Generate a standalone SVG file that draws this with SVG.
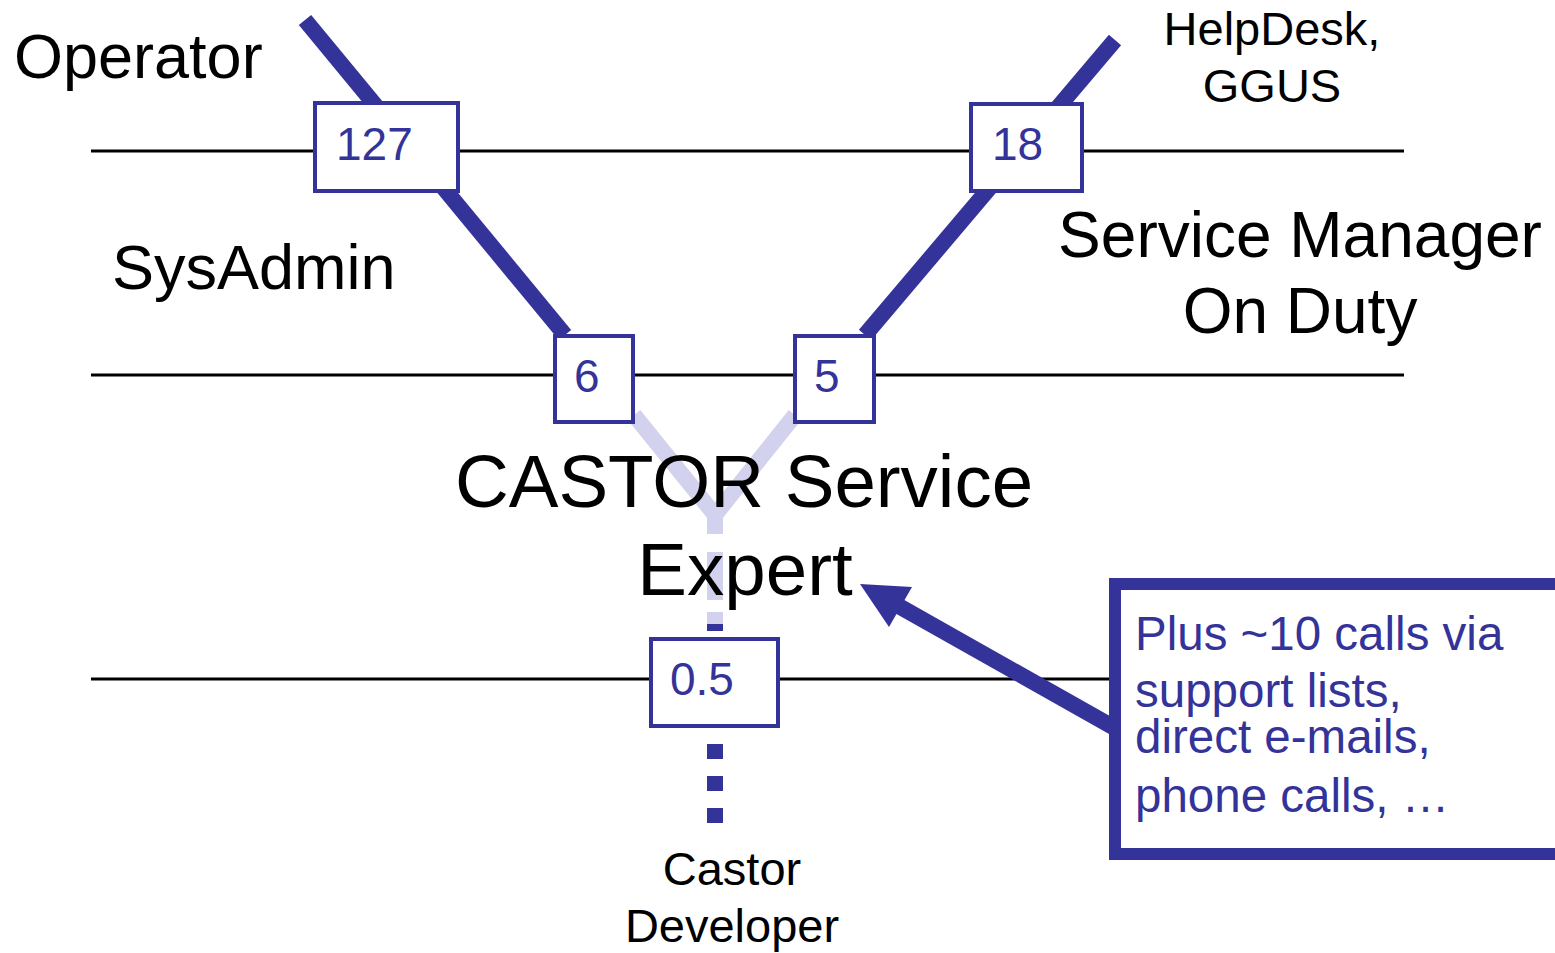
<svg xmlns="http://www.w3.org/2000/svg" width="1555" height="953" viewBox="0 0 1555 953">
<style>
.lvl{stroke:#000;stroke-width:3}
.thick{stroke:#333399;stroke-width:16;fill:none}
.faded{stroke:#d2d2ee;stroke-width:16;fill:none}
.box{fill:#fff;stroke:#333399;stroke-width:4}
.num{font-family:"Liberation Sans",Arial,sans-serif;font-size:46px;fill:#333399}
.lbl{font-family:"Liberation Sans",Arial,sans-serif;fill:#000}
.note{font-family:"Liberation Sans",Arial,sans-serif;font-size:47.5px;fill:#333399}
</style>
<rect width="1555" height="953" fill="#fff"/>
<g id="levels">
<line class="lvl" x1="91" y1="151" x2="1404" y2="151"/>
<line class="lvl" x1="91" y1="375" x2="1404" y2="375"/>
<line class="lvl" x1="91" y1="679" x2="1404" y2="679"/>
</g>
<g id="connectors">
<line class="thick" x1="305" y1="20" x2="565" y2="335"/>
<line class="thick" x1="1115" y1="40" x2="865" y2="335"/>
<polyline class="faded" points="634,415 715,515 795,415"/>
<line class="faded" x1="715" y1="512" x2="715" y2="534"/>
<line class="faded" x1="715" y1="552" x2="715" y2="600"/>
<line class="faded" x1="715" y1="612" x2="715" y2="624"/>
<line stroke="#333399" stroke-width="16" x1="715" y1="624" x2="715" y2="631"/>
<line stroke="#333399" stroke-width="16" stroke-dasharray="15 17" x1="715" y1="744" x2="715" y2="824"/>
<line class="thick" x1="1113" y1="727" x2="888" y2="600"/>
<polygon fill="#333399" points="860,584 912,587 889,627"/>
</g>
<g id="node-127"><rect class="box" x="315" y="103" width="143" height="88"/><text class="num" x="336" y="160">127</text></g>
<g id="node-18"><rect class="box" x="971" y="104" width="111" height="87"/><text class="num" x="992" y="160">18</text></g>
<g id="node-6"><rect class="box" x="555" y="336" width="78" height="86"/><text class="num" x="574" y="392">6</text></g>
<g id="node-5"><rect class="box" x="795" y="336" width="79" height="86"/><text class="num" x="814" y="392">5</text></g>
<g id="node-05"><rect class="box" x="651" y="639" width="127" height="87"/><text class="num" x="670" y="695">0.5</text></g>
<g id="labels">
<text class="lbl" x="14" y="78" font-size="63">Operator</text>
<text class="lbl" x="112" y="289" font-size="63">SysAdmin</text>
<text class="lbl" x="1272" y="45" font-size="47" text-anchor="middle">HelpDesk,</text>
<text class="lbl" x="1272" y="102" font-size="47" text-anchor="middle">GGUS</text>
<text class="lbl" x="1300" y="257" font-size="64" text-anchor="middle">Service Manager</text>
<text class="lbl" x="1300" y="333" font-size="64" text-anchor="middle">On Duty</text>
<text class="lbl" x="744" y="507" font-size="74.5" text-anchor="middle">CASTOR Service</text>
<text class="lbl" x="745" y="595" font-size="74.5" text-anchor="middle">Expert</text>
<text class="lbl" x="732" y="885" font-size="47" text-anchor="middle">Castor</text>
<text class="lbl" x="732" y="942" font-size="47" text-anchor="middle">Developer</text>
</g>
<g id="note">
<rect x="1115" y="584" width="460" height="270" fill="#fff" stroke="#333399" stroke-width="12"/>
<text class="note" x="1135" y="650">Plus ~10 calls via</text>
<text class="note" x="1135" y="707">support lists,</text>
<text class="note" x="1135" y="753">direct e-mails,</text>
<text class="note" x="1135" y="812">phone calls, …</text>
</g>
</svg>
